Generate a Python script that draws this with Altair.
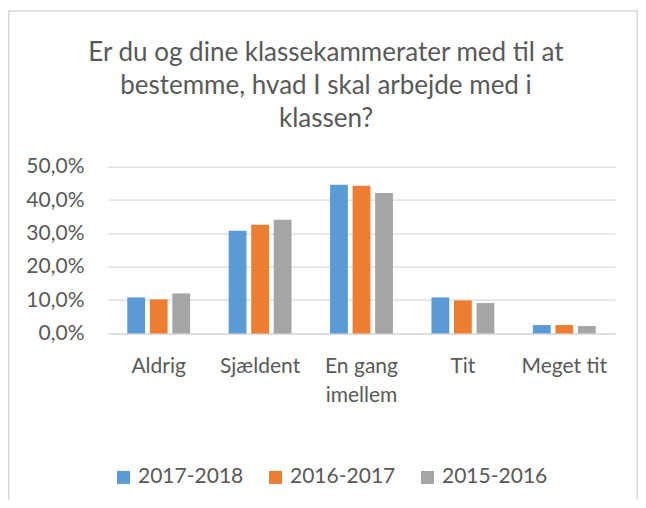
import altair as alt
import pandas as pd

categories = ["Aldrig", "Sjældent", "En gang imellem", "Tit", "Meget tit"]
years = ["2017-2018", "2016-2017", "2015-2016"]
v_2017_2018 = [10.8, 30.8, 44.6, 10.8, 2.5]
v_2016_2017 = [10.2, 32.6, 44.3, 9.9, 2.5]
v_2015_2016 = [12.0, 34.1, 42.1, 9.1, 2.2]
colors = ["#5B9BD5", "#ED7D31", "#A5A5A5"]
title_lines = ["Er du og dine klassekammerater med til at",
               "bestemme, hvad I skal arbejde med i",
               "klassen?"]

rows = []
for year, vals in zip(years, [v_2017_2018, v_2016_2017, v_2015_2016]):
    for c, v in zip(categories, vals):
        rows.append({"Kategori": c, "År": year, "Andel": v / 100})
df = pd.DataFrame(rows)

FONT = "Lato"
TXT = "#595959"
GRID = "#d9d9d9"

bars = alt.Chart(df).mark_bar().encode(
    x=alt.X("Kategori:N", sort=categories,
            scale=alt.Scale(paddingInner=0.38, paddingOuter=0.19),
            axis=alt.Axis(title=None, labelAngle=0, ticks=False, tickSize=0,
                          domainColor=GRID, domainWidth=1.3,
                          labelPadding=22, labelLineHeight=29,
                          labelExpr="datum.label == 'En gang imellem' ? ['En gang', 'imellem'] : datum.label")),
    xOffset=alt.XOffset("År:N", sort=years,
                        scale=alt.Scale(paddingInner=0.21, paddingOuter=0)),
    y=alt.Y("Andel:Q", scale=alt.Scale(domain=[0, 0.5]),
            axis=alt.Axis(title=None, values=[0, 0.1, 0.2, 0.3, 0.4, 0.5],
                          ticks=False, tickSize=0, domain=False,
                          gridColor=GRID, gridWidth=1.3, labelPadding=24,
                          labelExpr="replace(format(datum.value, '.1%'), '.', ',')")),
    color=alt.Color("År:N", sort=years,
                    scale=alt.Scale(domain=years, range=colors),
                    legend=alt.Legend(title=None, orient="none", direction="horizontal",
                                      legendX=5, legendY=300, symbolType="square",
                                      symbolSize=169, symbolStrokeWidth=0,
                                      labelOffset=4, columnPadding=21, padding=0)),
)

frame = alt.Chart(pd.DataFrame({"a": [0]})).mark_rect(
    fillOpacity=0, stroke=GRID, strokeWidth=1.5
).encode(
    x=alt.value(-99.3), x2=alt.value(529.3),
    y=alt.value(-155.7), y2=alt.value(345)
)

title = alt.Chart(pd.DataFrame({"t": [title_lines]})).mark_text(
    font=FONT, fontSize=26, color=TXT, align="center", baseline="alphabetic",
    lineHeight=33
).encode(
    text="t:N", x=alt.value(218), y=alt.value(-105.7)
)

chart = alt.layer(frame, title, bars).properties(
    width=507, height=166.7,
    padding={"left": 100, "top": 158.7, "right": 23, "bottom": 166.6},
    autosize=alt.AutoSizeParams(type="none"),
).configure_axis(
    labelFont=FONT, labelFontSize=21, labelColor=TXT,
).configure_legend(
    labelFont=FONT, labelFontSize=21, labelColor=TXT,
).configure_view(stroke=None)

chart.save("out.html", embed_options={"renderer": "svg", "actions": False})
